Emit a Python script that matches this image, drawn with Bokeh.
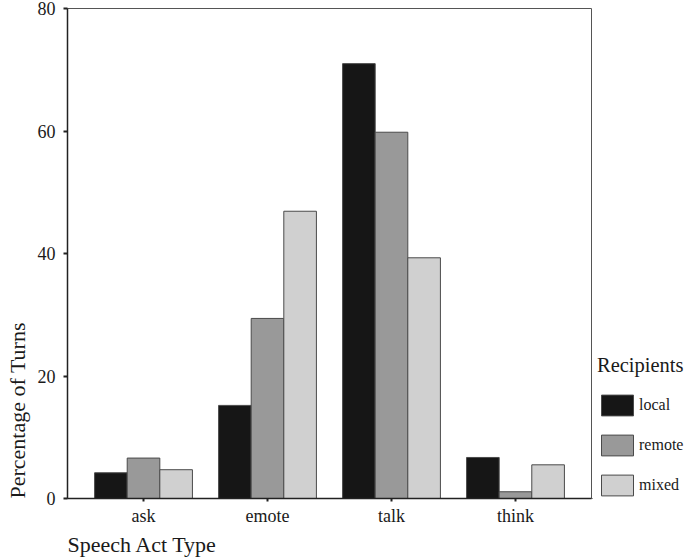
from bokeh.plotting import figure
from bokeh.layouts import row
from bokeh.models import (ColumnDataSource, FactorRange, Range1d, Legend, LegendItem,
                          Title, FixedTicker)
from bokeh.transform import dodge
from bokeh.embed import file_html
from bokeh.resources import INLINE

categories = ["ask", "emote", "talk", "think"]
recipients = ["local", "remote", "mixed"]
local = [4.2, 15.2, 71.0, 6.7]
remote = [6.6, 29.4, 59.8, 1.1]
mixed = [4.7, 46.9, 39.3, 5.5]
y_ticks = [0, 20, 40, 60, 80]

colors = ["#161616", "#999999", "#d0d0d0"]
FONT = "Liberation Serif"
TXT = "#1a1a1a"
EDGE = "#4a4a4a"

source = ColumnDataSource(dict(cat=categories, local=local, remote=remote, mixed=mixed))

p = figure(x_range=FactorRange(factors=categories, range_padding=0.113,
                               range_padding_units="absolute"),
           y_range=Range1d(0, 80), width=592, height=558, title=None,
           output_backend="svg", toolbar_location=None,
           min_border_left=67, min_border_right=1, min_border_top=8,
           min_border_bottom=60)

bw = 0.263
offsets = [-bw, 0.0, bw]
for name, col, off in zip(recipients, colors, offsets):
    p.vbar(x=dodge("cat", off, range=p.x_range), top=name, width=bw, bottom=0,
           source=source, fill_color=col, line_color=EDGE, line_width=1)

p.xgrid.grid_line_color = None
p.ygrid.grid_line_color = None
p.outline_line_color = "#555555"
p.outline_line_width = 1
p.background_fill_color = "white"
p.border_fill_color = "white"

p.yaxis.ticker = FixedTicker(ticks=y_ticks)
for ax in (p.xaxis[0], p.yaxis[0]):
    ax.axis_line_color = "#222222"
    ax.axis_line_width = 1.5
    ax.major_tick_line_color = "#222222"
    ax.major_tick_line_width = 2
    ax.major_tick_in = 0
    ax.major_tick_out = 4
    ax.minor_tick_line_color = None
    ax.major_label_text_font = FONT
    ax.major_label_text_font_size = "18px"
    ax.major_label_text_color = TXT
p.yaxis.major_label_standoff = 8
p.xaxis.major_label_standoff = 4
p.xaxis.major_tick_out = 3

ytitle = Title(text="Percentage of Turns", align="left", vertical_align="top",
               text_font=FONT, text_font_size="22px", text_font_style="normal",
               text_color=TXT, standoff=6)
p.add_layout(ytitle, "left")
xtitle = Title(text="Speech Act Type", align="left", text_font=FONT,
               text_font_size="22px", text_font_style="normal", text_color=TXT,
               standoff=3)
p.add_layout(xtitle, "below")

# legend panel (its frame is aligned with the main frame by the row layout)
lf = figure(width=92, height=558, title=None, output_backend="svg",
            toolbar_location=None, x_axis_location=None, y_axis_location=None,
            x_range=Range1d(0, 1), y_range=Range1d(0, 1), min_border=0)
lf.grid.visible = False
lf.outline_line_color = None
lf.background_fill_color = "white"
lf.border_fill_color = "white"
keys = ColumnDataSource(dict(x=[-1.0], top=[0.0]))  # off-range legend keys
lrs = [lf.vbar(x="x", top="top", width=0.1, source=keys, fill_color=c,
               line_color=EDGE, line_width=1) for c in colors]

legend = Legend(items=[LegendItem(label=n, renderers=[r]) for n, r in zip(recipients, lrs)],
                location=(5, 0), title="Recipients",
                title_text_font=FONT, title_text_font_size="20.5px",
                title_text_font_style="normal", title_text_color=TXT, title_standoff=15,
                label_text_font=FONT, label_text_font_size="16px", label_text_color=TXT,
                glyph_width=40, glyph_height=26, label_height=26, spacing=14,
                label_standoff=2, padding=0, margin=0,
                border_line_color=None, background_fill_alpha=0)
lf.add_layout(legend)

layout = row(p, lf, spacing=0)
open("out.html", "w").write(file_html(layout, INLINE))
